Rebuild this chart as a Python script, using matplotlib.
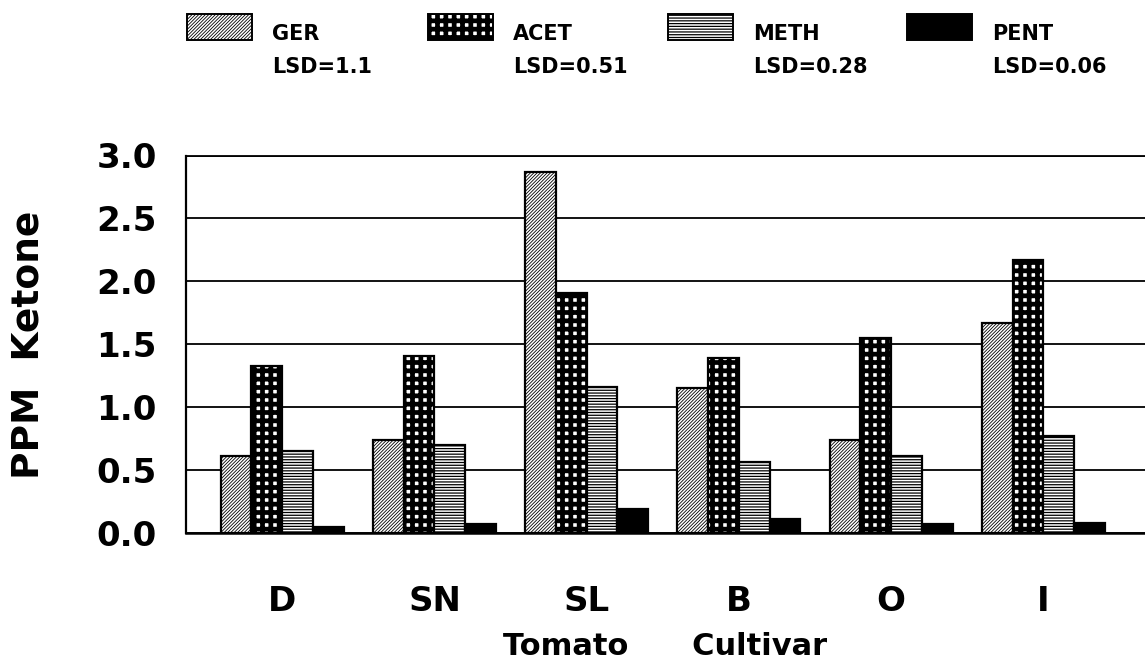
import matplotlib
matplotlib.use("Agg")
import matplotlib.pyplot as plt
from matplotlib.patches import Rectangle
import numpy as np

# Ketone concentrations (ppm) by tomato cultivar
cultivars = ["D", "SN", "SL", "B", "O", "I"]
ger = [0.61, 0.74, 2.87, 1.15, 0.74, 1.67]
acet = [1.33, 1.41, 1.91, 1.39, 1.55, 2.17]
meth = [0.65, 0.70, 1.16, 0.57, 0.61, 0.77]
pent = [0.05, 0.07, 0.19, 0.11, 0.07, 0.08]

series_names = ["GER", "ACET", "METH", "PENT"]
lsd_labels = ["LSD=1.1", "LSD=0.51", "LSD=0.28", "LSD=0.06"]
yticks = [0.0, 0.5, 1.0, 1.5, 2.0, 2.5, 3.0]

FONT = "DejaVu Sans"
plt.rcParams["font.family"] = FONT
plt.rcParams["font.weight"] = "bold"

# fill styles: (facecolor, hatch, hatch linewidth)
styles = [
    ("white", "//////////", 0.6),
    ("white", "++", 3.4),
    ("white", "------", 0.9),
    ("black", None, 1.0),
]

W, H = 1145, 666
fig = plt.figure(figsize=(W / 100, H / 100), dpi=100)
ax = fig.add_axes([186 / W, 1 - 533.3 / H, 1 - 186 / W, (533.3 - 155.5) / H])

x = np.arange(len(cultivars))
width = 0.202
values = [ger, acet, meth, pent]
for i, (vals, (fc, hatch, hlw)) in enumerate(zip(values, styles)):
    with plt.rc_context({"hatch.linewidth": hlw}):
        bars = ax.bar(x + (i - 1.5) * width, vals, width, facecolor=fc,
                      edgecolor="black", linewidth=1.6, hatch=hatch, zorder=3)
    for b in bars:
        if hasattr(b, "set_hatch_linewidth"):
            b.set_hatch_linewidth(hlw)

ax.set_xlim(-0.632, 5.667)
ax.set_ylim(0, 3.0)
ax.set_yticks(yticks)
ax.set_yticklabels([f"{v:.1f}" for v in yticks])
ax.set_xticks(x)
ax.set_xticklabels(cultivars)
ax.tick_params(axis="both", length=0, labelsize=24.5)
ax.tick_params(axis="y", pad=21)
ax.tick_params(axis="x", pad=37)
for lab in ax.get_xticklabels() + ax.get_yticklabels():
    lab.set_fontweight("bold")

ax.yaxis.grid(True, color="black", linewidth=1.3, zorder=0)
ax.set_axisbelow(True)
ax.spines["right"].set_visible(False)
ax.spines["top"].set_linewidth(1.3)
ax.spines["left"].set_linewidth(1.6)
ax.spines["bottom"].set_linewidth(1.8)

ax.set_ylabel("PPM  Ketone", fontsize=27, fontweight="bold", va="center")
ax.yaxis.set_label_coords((29 - 186) / (W - 186), 0.5)
ax.set_xlabel("Tomato      Cultivar", fontsize=22, fontweight="bold", labelpad=10)

# key across the top: swatch, series name and its LSD
swatch_left = [187, 428, 668, 907]
for left, name, lsd, (fc, hatch, hlw) in zip(swatch_left, series_names, lsd_labels, styles):
    with plt.rc_context({"hatch.linewidth": hlw}):
        r = Rectangle((left / W, 1 - 40 / H), 65 / W, 26 / H, transform=fig.transFigure,
                      facecolor=fc, edgecolor="black", linewidth=1.4, hatch=hatch)
    if hasattr(r, "set_hatch_linewidth"):
        r.set_hatch_linewidth(hlw)
    fig.patches.append(r)
    tx = (left + 85) / W
    fig.text(tx, 1 - 40 / H, name, fontsize=15, fontweight="bold", va="baseline", ha="left")
    fig.text(tx, 1 - 73 / H, lsd, fontsize=15, fontweight="bold", va="baseline", ha="left")

fig.savefig("out.png", dpi=100)
